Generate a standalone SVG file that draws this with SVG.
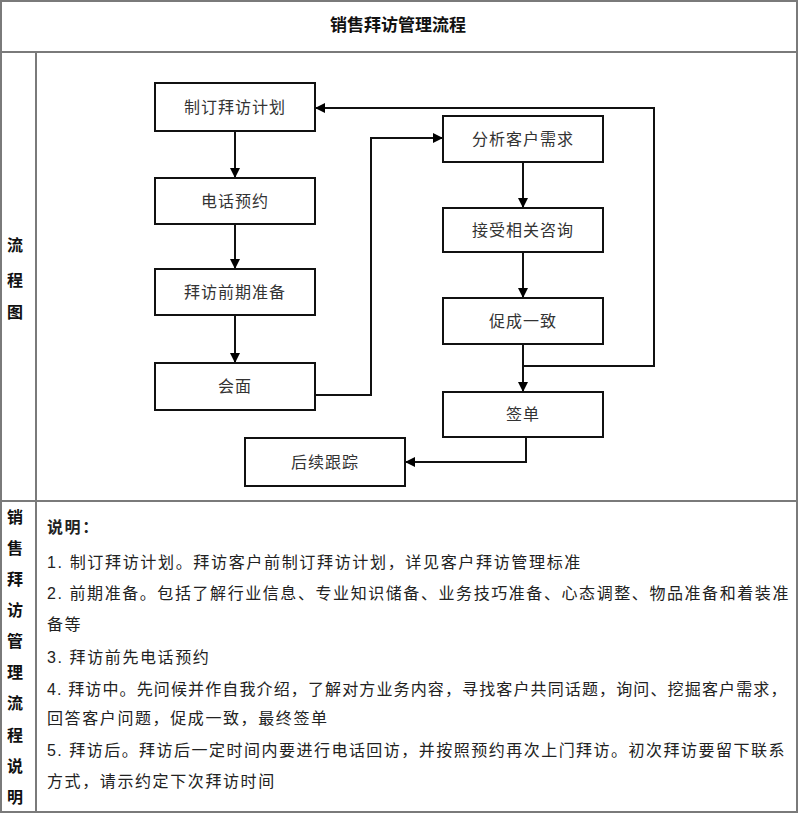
<svg xmlns="http://www.w3.org/2000/svg" width="798" height="813" viewBox="0 0 798 813">
<defs>
<marker id="arr" viewBox="0 0 10 10" refX="10" refY="5" markerWidth="10" markerHeight="10" markerUnits="userSpaceOnUse" orient="auto">
<path d="M0,0 L10,5 L0,10 z" fill="#000"/>
</marker>
<style>
.grid{stroke:#7a7a7a;stroke-width:2;fill:none}
.box rect{fill:#fff;stroke:#111;stroke-width:2}
.box text{font-family:"Liberation Sans","Noto Sans CJK SC",sans-serif;font-size:16px;fill:#333;text-anchor:middle;letter-spacing:1px}
.conn{stroke:#111;stroke-width:2;fill:none}
.side{font-family:"Liberation Serif","Noto Sans CJK SC",serif;font-size:16px;font-weight:bold;fill:#111;text-anchor:middle}
.desc{font-family:"Liberation Sans","Noto Sans CJK SC",sans-serif;font-size:16px;fill:#222;letter-spacing:1.6px}
.title{font-family:"Liberation Serif","Noto Sans CJK SC",serif;font-size:17px;font-weight:bold;fill:#111;text-anchor:middle}
</style>
</defs>
<rect x="0" y="0" width="798" height="813" fill="#fff"/>
<g id="table">
<rect class="grid" x="1" y="1" width="796" height="811"/>
<line class="grid" x1="0" y1="52" x2="798" y2="52"/>
<line class="grid" x1="36" y1="52" x2="36" y2="812"/>
<line class="grid" x1="0" y1="501" x2="798" y2="501"/>
</g>
<text class="title" x="398" y="31">销售拜访管理流程</text>
<g id="side-labels">
<text class="side" x="15" y="251">流</text>
<text class="side" x="15" y="286">程</text>
<text class="side" x="15" y="318">图</text>
<text class="side" x="15" y="523">销</text>
<text class="side" x="15" y="554">售</text>
<text class="side" x="15" y="585">拜</text>
<text class="side" x="15" y="616">访</text>
<text class="side" x="15" y="647">管</text>
<text class="side" x="15" y="678">理</text>
<text class="side" x="15" y="709">流</text>
<text class="side" x="15" y="741">程</text>
<text class="side" x="15" y="772">说</text>
<text class="side" x="15" y="803">明</text>
</g>
<g id="connectors">
<line class="conn" x1="235" y1="131" x2="235" y2="178" marker-end="url(#arr)"/>
<line class="conn" x1="235" y1="224" x2="235" y2="269" marker-end="url(#arr)"/>
<line class="conn" x1="235" y1="315" x2="235" y2="363" marker-end="url(#arr)"/>
<polyline class="conn" points="315,395 371,395 371,138 443,138" marker-end="url(#arr)"/>
<line class="conn" x1="523" y1="162" x2="523" y2="208" marker-end="url(#arr)"/>
<line class="conn" x1="523" y1="252" x2="523" y2="298" marker-end="url(#arr)"/>
<line class="conn" x1="523" y1="344" x2="523" y2="392" marker-end="url(#arr)"/>
<polyline class="conn" points="523,366 654,366 654,108 315,108" marker-end="url(#arr)"/>
<polyline class="conn" points="526,437 526,462 405,462" marker-end="url(#arr)"/>
</g>
<g id="n1" class="box"><rect x="155" y="83" width="160" height="48"/><text x="235" y="113">制订拜访计划</text></g>
<g id="n2" class="box"><rect x="155" y="178" width="160" height="46"/><text x="235" y="207">电话预约</text></g>
<g id="n3" class="box"><rect x="155" y="269" width="160" height="46"/><text x="235" y="298">拜访前期准备</text></g>
<g id="n4" class="box"><rect x="155" y="363" width="160" height="47"/><text x="235" y="392">会面</text></g>
<g id="n5" class="box"><rect x="443" y="116" width="160" height="46"/><text x="523" y="145">分析客户需求</text></g>
<g id="n6" class="box"><rect x="443" y="208" width="160" height="44"/><text x="523" y="236">接受相关咨询</text></g>
<g id="n7" class="box"><rect x="443" y="298" width="160" height="46"/><text x="523" y="327">促成一致</text></g>
<g id="n8" class="box"><rect x="443" y="392" width="160" height="45"/><text x="523" y="420">签单</text></g>
<g id="n9" class="box"><rect x="245" y="438" width="160" height="48"/><text x="325" y="468">后续跟踪</text></g>
<g id="description">
<text class="desc" x="47" y="533" font-weight="bold">说明：</text>
<text class="desc" x="47" y="568" textLength="535" lengthAdjust="spacingAndGlyphs">1. 制订拜访计划。拜访客户前制订拜访计划，详见客户拜访管理标准</text>
<text class="desc" x="47" y="599" textLength="743" lengthAdjust="spacing">2. 前期准备。包括了解行业信息、专业知识储备、业务技巧准备、心态调整、物品准备和着装准</text>
<text class="desc" x="47" y="630">备等</text>
<text class="desc" x="47" y="663">3. 拜访前先电话预约</text>
<text class="desc" x="47" y="695" textLength="741" lengthAdjust="spacing">4. 拜访中。先问候并作自我介绍，了解对方业务内容，寻找客户共同话题，询问、挖掘客户需求，</text>
<text class="desc" x="47" y="724">回答客户问题，促成一致，最终签单</text>
<text class="desc" x="47" y="756" textLength="739" lengthAdjust="spacing">5. 拜访后。拜访后一定时间内要进行电话回访，并按照预约再次上门拜访。初次拜访要留下联系</text>
<text class="desc" x="47" y="787">方式，请示约定下次拜访时间</text>
</g>
</svg>
